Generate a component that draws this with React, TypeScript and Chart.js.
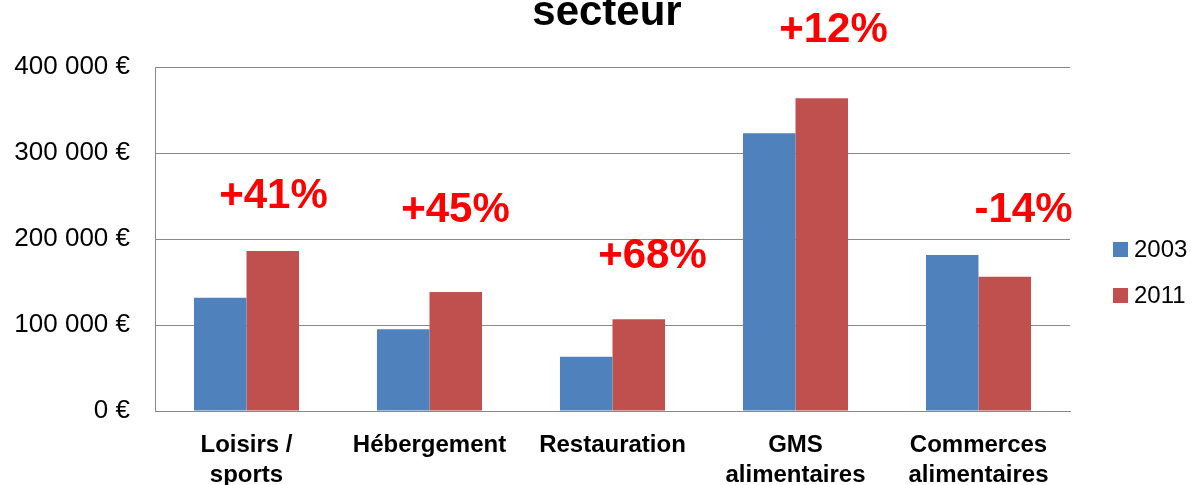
import React, { useEffect, useRef } from "react";
import { Chart, registerables } from "chart.js";

Chart.register(...registerables);

const categories: (string | string[])[] = [
  ["Loisirs /", "sports"],
  "Hébergement",
  "Restauration",
  ["GMS", "alimentaires"],
  ["Commerces", "alimentaires"],
];
const seriesNames = ["2003", "2011"];
const values2003 = [131700, 95000, 63200, 323000, 181400];
const values2011 = [186000, 138400, 106600, 363600, 156200];
const changeLabels = ["+41%", "+45%", "+68%", "+12%", "-14%"];
const changeLabelLevels = [250000, 233000, 180000, 443000, 233000];
const yTickValues = [0, 100000, 200000, 300000, 400000];
const titleText = "secteur";

const COLORS = ["#4F81BD", "#C0504D"];
const FONT = "'Liberation Sans', Arial, sans-serif";
const GRID = "#888888";

const changeOffsets = [27, 26, 40, 38, 45];

function formatEuro(v: number): string {
  const s = Math.round(v).toString().replace(/\B(?=(\d{3})+(?!\d))/g, " ");
  return s + " €";
}

const overlayPlugin = {
  id: "overlay",
  afterDraw(chart: any) {
    const ctx = chart.ctx as CanvasRenderingContext2D;
    const xs = chart.scales.x;
    const ys = chart.scales.y;
    ctx.save();
    // title
    ctx.fillStyle = "#000";
    ctx.font = `bold 42px ${FONT}`;
    ctx.textAlign = "center";
    ctx.textBaseline = "alphabetic";
    ctx.fillText(titleText, 607, 25);
    // change annotations
    ctx.fillStyle = "#FF0000";
    ctx.font = `bold 42px ${FONT}`;
    ctx.textBaseline = "middle";
    changeLabels.forEach((t, i) => {
      const x = xs.getPixelForValue(i) + changeOffsets[i];
      const y = ys.getPixelForValue(changeLabelLevels[i]);
      ctx.fillText(t, x, y);
    });
    // legend
    ctx.font = `24px ${FONT}`;
    ctx.textAlign = "left";
    seriesNames.forEach((n, i) => {
      const top = 242 + i * 46;
      ctx.fillStyle = COLORS[i];
      ctx.fillRect(1113, top, 15, 15);
      ctx.fillStyle = "#000";
      ctx.fillText(n, 1134, top + 8);
    });
    ctx.restore();
  },
};

export default function App() {
  const canvasRef = useRef<HTMLCanvasElement | null>(null);

  useEffect(() => {
    const canvas = canvasRef.current;
    if (!canvas) return;
    const chart = new Chart(canvas, {
      type: "bar",
      data: {
        labels: categories as any,
        datasets: [
          {
            label: seriesNames[0],
            data: values2003,
            backgroundColor: COLORS[0],
            borderWidth: 0,
            categoryPercentage: 0.574,
            barPercentage: 1,
          },
          {
            label: seriesNames[1],
            data: values2011,
            backgroundColor: COLORS[1],
            borderWidth: 0,
            categoryPercentage: 0.574,
            barPercentage: 1,
          },
        ],
      },
      options: {
        responsive: false,
        animation: false,
        devicePixelRatio: 1,
        layout: { padding: { top: 67, right: 125, left: 0, bottom: 0 } },
        plugins: {
          legend: { display: false },
          title: { display: false },
          tooltip: { enabled: false },
        },
        scales: {
          x: {
            grid: { display: false, drawTicks: false },
            border: { display: true, color: GRID, width: 1 },
            ticks: {
              color: "#000",
              padding: 19,
              maxRotation: 0,
              autoSkip: false,
              font: { family: FONT, size: 24, weight: "bold", lineHeight: 1.25 },
            },
            afterFit: (s: any) => {
              s.height = 74;
            },
          },
          y: {
            min: 0,
            max: 400000,
            afterBuildTicks: (s: any) => {
              s.ticks = yTickValues.map((v) => ({ value: v }));
            },
            grid: { color: GRID, lineWidth: 1, drawTicks: false },
            border: { display: true, color: GRID, width: 1 },
            ticks: {
              color: "#000",
              padding: 25,
              font: { family: FONT, size: 26 },
              callback: (v: any) => formatEuro(Number(v)),
            },
            afterFit: (s: any) => {
              s.width = 155;
            },
          },
        },
      },
      plugins: [overlayPlugin],
    });
    return () => chart.destroy();
  }, []);

  return (
    <div style={{ position: "absolute", left: 0, top: 0, width: 1195, height: 485, background: "#fff" }}>
      <canvas ref={canvasRef} width={1195} height={485} style={{ display: "block" }} />
    </div>
  );
}
